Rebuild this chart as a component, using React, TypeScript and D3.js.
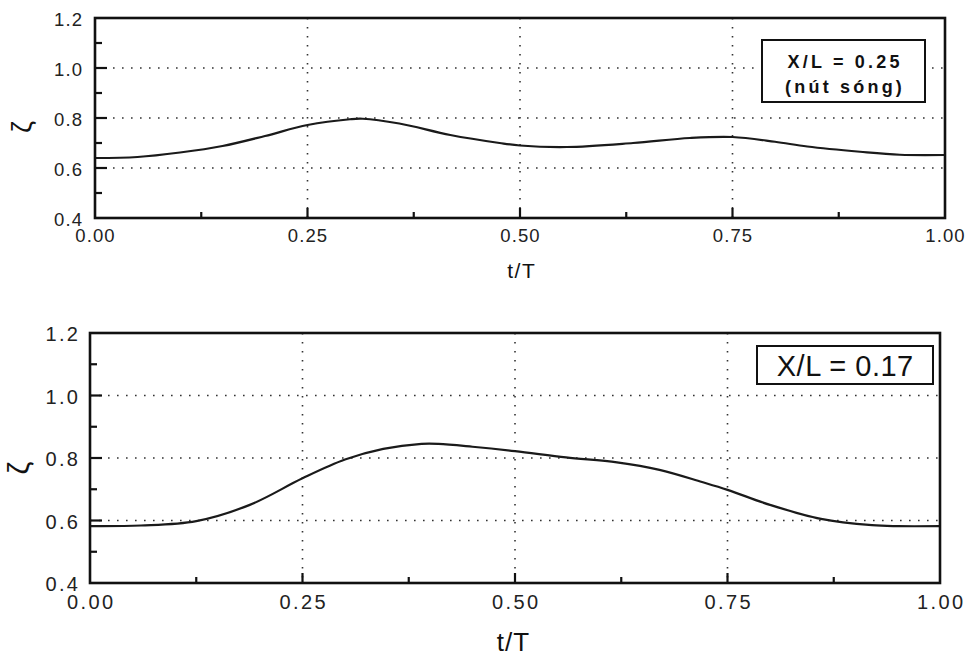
import React from "react";
import * as d3 from "d3";

// Free-surface elevation ζ over one wave period, at two stations along the basin
const tTop = [0, 0.05, 0.1, 0.15, 0.2, 0.25, 0.3, 0.315, 0.358, 0.418, 0.476, 0.5, 0.555, 0.633, 0.7, 0.75, 0.8, 0.838, 0.9, 0.947, 1.0];
const zetaTop = [0.64, 0.644, 0.662, 0.688, 0.728, 0.772, 0.795, 0.797, 0.778, 0.732, 0.7, 0.69, 0.684, 0.7, 0.72, 0.724, 0.705, 0.686, 0.665, 0.653, 0.652];

const tBottom = [0, 0.06, 0.125, 0.188, 0.25, 0.3, 0.345, 0.39, 0.41, 0.45, 0.5, 0.56, 0.62, 0.67, 0.72, 0.75, 0.8, 0.86, 0.92, 0.95, 1.0];
const zetaBottom = [0.582, 0.584, 0.598, 0.65, 0.735, 0.795, 0.829, 0.845, 0.845, 0.836, 0.822, 0.802, 0.786, 0.762, 0.723, 0.698, 0.65, 0.605, 0.585, 0.582, 0.582];

const xTicks = [0, 0.25, 0.5, 0.75, 1.0];
const xTickLabels = ["0.00", "0.25", "0.50", "0.75", "1.00"];
const xMinorTicks = [0.125, 0.375, 0.625, 0.875];
const yTicks = [0.4, 0.6, 0.8, 1.0, 1.2];
const yTickLabels = ["0.4", "0.6", "0.8", "1.0", "1.2"];
const yMinorTicks = [0.5, 0.7, 0.9, 1.1];
const gridX = [0.25, 0.5, 0.75];
const gridY = [0.6, 0.8, 1.0];

const legendTop = ["X/L = 0.25", "(nút sóng)"];
const legendBottom = ["X/L = 0.17"];

const FONT = "'Liberation Sans', Arial, Helvetica, sans-serif";

type PanelProps = {
  t: number[];
  zeta: number[];
  left: number;
  right: number;
  top: number;
  bottom: number;
  tickFont: number;
  tickSpacing: number;
  xLabelY: number;
  yLabelX: number;
  titleY: number;
  titleX: number;
  titleFont: number;
  titleSpacing: number;
  zetaPos: [number, number];
  zetaFont: number;
  legend: string[];
  legendBox: { x: number; y: number; w: number; h: number };
  legendFont: number;
  legendSpacing: number;
  legendBold: boolean;
  legendBaselines: number[];
};

function Panel(p: PanelProps) {
  const x = d3.scaleLinear().domain([0, 1]).range([p.left, p.right]);
  const y = d3.scaleLinear().domain([0.4, 1.2]).range([p.bottom, p.top]);
  const line = d3
    .line<number>()
    .x((_, i) => x(p.t[i]))
    .y((d) => y(d))
    .curve(d3.curveCatmullRom.alpha(0.5));

  const gridStyle = {
    stroke: "#333",
    strokeWidth: 1.6,
    strokeDasharray: "1.6 7.4",
  };

  return (
    <g>
      {/* dotted grid */}
      {gridY.map((v) => (
        <line key={"gy" + v} x1={p.left} x2={p.right} y1={y(v)} y2={y(v)} {...gridStyle} />
      ))}
      {gridX.map((v) => (
        <line key={"gx" + v} x1={x(v)} x2={x(v)} y1={p.top} y2={p.bottom} {...gridStyle} />
      ))}

      {/* legend box */}
      <rect
        x={p.legendBox.x}
        y={p.legendBox.y}
        width={p.legendBox.w}
        height={p.legendBox.h}
        fill="#fff"
        stroke="#111"
        strokeWidth={2}
      />
      {p.legend.map((s, i) => (
        <text
          key={s}
          x={p.legendBox.x + p.legendBox.w / 2 + p.legendSpacing / 2}
          y={p.legendBaselines[i]}
          textAnchor="middle"
          fontFamily={FONT}
          fontSize={p.legendFont}
          fontWeight={p.legendBold ? 700 : 400}
          letterSpacing={p.legendSpacing}
          fill="#111"
        >
          {s}
        </text>
      ))}

      {/* curve */}
      <path d={line(p.zeta) ?? ""} fill="none" stroke="#1a1a1a" strokeWidth={2.2} />

      {/* ticks */}
      {xTicks.slice(1, -1).map((v) => (
        <line key={"xt" + v} x1={x(v)} x2={x(v)} y1={p.bottom} y2={p.bottom - 10} stroke="#111" strokeWidth={2.2} />
      ))}
      {xMinorTicks.map((v) => (
        <line key={"xm" + v} x1={x(v)} x2={x(v)} y1={p.bottom} y2={p.bottom - 6} stroke="#111" strokeWidth={2.2} />
      ))}
      {yTicks.slice(1, -1).map((v) => (
        <line key={"yt" + v} x1={p.left} x2={p.left + 12} y1={y(v)} y2={y(v)} stroke="#111" strokeWidth={2.2} />
      ))}
      {yMinorTicks.map((v) => (
        <line key={"ym" + v} x1={p.left} x2={p.left + 7} y1={y(v)} y2={y(v)} stroke="#111" strokeWidth={2.2} />
      ))}

      {/* frame */}
      <rect
        x={p.left}
        y={p.top}
        width={p.right - p.left}
        height={p.bottom - p.top}
        fill="none"
        stroke="#111"
        strokeWidth={2.6}
      />

      {/* tick labels */}
      {xTicks.map((v, i) => (
        <text
          key={"xl" + v}
          x={x(v) + p.tickSpacing / 2}
          y={p.xLabelY}
          textAnchor="middle"
          fontFamily={FONT}
          fontSize={p.tickFont}
          letterSpacing={p.tickSpacing}
          fill="#222"
        >
          {xTickLabels[i]}
        </text>
      ))}
      {yTicks.map((v, i) => (
        <text
          key={"yl" + v}
          x={p.yLabelX + p.tickSpacing}
          y={y(v) + 1}
          textAnchor="end"
          dominantBaseline="central"
          fontFamily={FONT}
          fontSize={p.tickFont}
          letterSpacing={p.tickSpacing}
          fill="#222"
        >
          {yTickLabels[i]}
        </text>
      ))}

      {/* axis titles */}
      <text
        x={p.titleX + p.titleSpacing / 2}
        y={p.titleY}
        textAnchor="middle"
        fontFamily={FONT}
        fontSize={p.titleFont}
        letterSpacing={p.titleSpacing}
        fill="#111"
      >
        t/T
      </text>
      <text
        transform={`translate(${p.zetaPos[0]},${p.zetaPos[1]}) rotate(-90)`}
        textAnchor="middle"
        dominantBaseline="central"
        fontFamily={FONT}
        fontSize={p.zetaFont}
        fill="#111"
      >
        ζ
      </text>
    </g>
  );
}

export default function App() {
  return (
    <svg
      width={966}
      height={658}
      viewBox="0 0 966 658"
      style={{ position: "absolute", left: 0, top: 0, background: "#fff" }}
    >
      <rect width={966} height={658} fill="#fff" />
      <Panel
        t={tTop}
        zeta={zetaTop}
        left={95}
        right={945}
        top={18}
        bottom={218}
        tickFont={18.5}
        tickSpacing={1.1}
        xLabelY={242}
        yLabelX={82}
        titleX={521}
        titleY={278}
        titleFont={21}
        titleSpacing={1.5}
        zetaPos={[22, 127]}
        zetaFont={27}
        legend={legendTop}
        legendBox={{ x: 762, y: 40, w: 163, h: 62 }}
        legendFont={18}
        legendSpacing={3.2}
        legendBold={true}
        legendBaselines={[68, 93]}
      />
      <Panel
        t={tBottom}
        zeta={zetaBottom}
        left={90}
        right={940}
        top={333}
        bottom={583}
        tickFont={20}
        tickSpacing={2.4}
        xLabelY={609}
        yLabelX={78}
        titleX={513}
        titleY={651}
        titleFont={26}
        titleSpacing={1}
        zetaPos={[19, 468]}
        zetaFont={29}
        legend={legendBottom}
        legendBox={{ x: 757, y: 346, w: 176, h: 38 }}
        legendFont={29}
        legendSpacing={0.5}
        legendBold={false}
        legendBaselines={[376]}
      />
    </svg>
  );
}
